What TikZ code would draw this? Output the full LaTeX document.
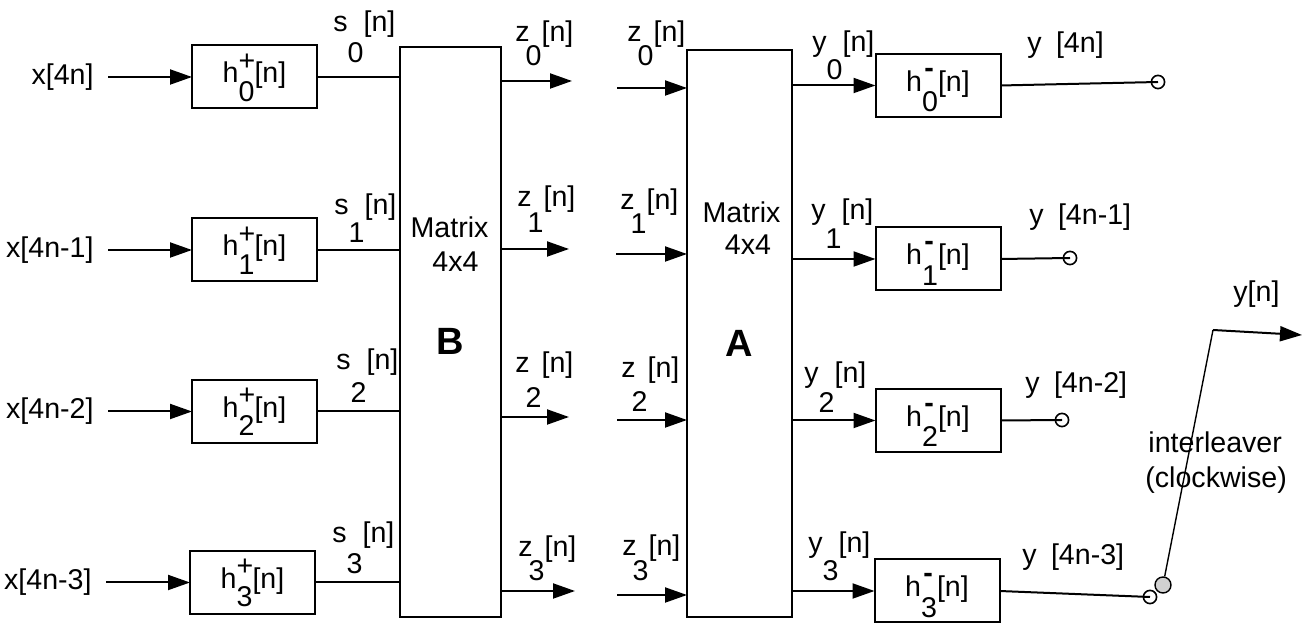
\documentclass[tikz,border=0pt]{standalone}
\usepackage{fontspec}
\setmainfont{Liberation Sans}
\usetikzlibrary{positioning}
\usetikzlibrary{arrows.meta}

\newcommand{\hplus}[1]{h\rlap{\raisebox{0.45em}{+}}\raisebox{-0.64em}{#1}[n]}
\newcommand{\hminus}[1]{h\rlap{\raisebox{0.5em}{\kern0.08em\textbf{-}}}\raisebox{-0.72em}{#1}[n]}
\newcommand{\sigl}[3]{#1\raisebox{-#3em}{#2}[n]}

\begin{document}
\begin{tikzpicture}[x=0.5pt,y=-0.5pt,
                    every node/.style={font=\fontsize{14.3}{17}\selectfont},
                    filterbox/.style={rectangle,
                                      draw=black, line width=1pt,
                                      inner sep=0pt, outer sep=0,
                                      minimum width=62.5pt, minimum height=31.5pt,
                                      text height=9.8pt, text depth=3.9pt
                                     },
                    matrixbox/.style={rectangle,
                                      draw=black, line width=1pt,
                                      inner sep=0pt, outer sep=0
                                     },
                    inlabel/.style={anchor=east, inner sep=7pt},
                    siglabel/.style={anchor=base west, inner sep=0pt},
                    midlabel/.style={anchor=base, inner sep=0pt},
                    tapcircle/.style={circle, draw=black, line width=0.8pt,
                                      inner sep=0pt, minimum size=6.6pt},
                    switchcircle/.style={circle, draw=black, line width=0.7pt,
                                      fill=black!18, inner sep=0pt, minimum size=8pt},
                    sigconnection/.style={
                                      line width=1pt,
                                      -{Triangle[length=11pt,width=7.5pt]}
                                     },
                    plainconnection/.style={line width=1pt}
                   ]
  \useasboundingbox (0,0) rectangle (1303,624);

  % matrices
  \node[matrixbox, minimum width=50.5pt, minimum height=285pt] (matB) at (450.5,332) { };
  \node[matrixbox, minimum width=52.5pt, minimum height=283.5pt] (matA) at (739.5,333.5) { };
  \node[midlabel] (matBa) at (449.5,238) {Matrix};
  \node[midlabel] (matBb) at (455.5,272) {4x4};
  \node[midlabel, font=\fontsize{19}{22}\selectfont\bfseries] (matBc) at (450,355) {B};
  \node[midlabel] (matAa) at (741.5,223) {Matrix};
  \node[midlabel] (matAb) at (748,255) {4x4};
  \node[midlabel, font=\fontsize{19}{22}\selectfont\bfseries] (matAc) at (739.5,357) {A};

  % analysis filters
  \node[inlabel] (x0) at (108,77) {x[4n]};
  \node[inlabel] (x1) at (108,250) {x[4n-1]};
  \node[inlabel] (x2) at (108,411.5) {x[4n-2]};
  \node[inlabel] (x3) at (106,582.5) {x[4n-3]};
  \node[filterbox] (hp0) at (254.5,77) {\hplus{0}};
  \node[filterbox] (hp1) at (254.5,250) {\hplus{1}};
  \node[filterbox] (hp2) at (254.5,411.5) {\hplus{2}};
  \node[filterbox] (hp3) at (252.5,582.5) {\hplus{3}};
  \draw [sigconnection] (x0) -- (x0 -| hp0.west);
  \draw [sigconnection] (x1) -- (x1 -| hp1.west);
  \draw [sigconnection] (x2) -- (x2 -| hp2.west);
  \draw [sigconnection] (x3) -- (x3 -| hp3.west);
  \draw [plainconnection] (hp0.east) -- (hp0.east -| matB.west);
  \draw [plainconnection] (hp1.east) -- (hp1.east -| matB.west);
  \draw [plainconnection] (hp2.east) -- (hp2.east -| matB.west);
  \draw [plainconnection] (hp3.east) -- (hp3.east -| matB.west);
  \node[siglabel] (s0) at (333,32) {\sigl{s}{0}{1.07}};
  \node[siglabel] (s1) at (334,215) {\sigl{s}{1}{0.96}};
  \node[siglabel] (s2) at (336,370) {\sigl{s}{2}{1.14}};
  \node[siglabel] (s3) at (332,543) {\sigl{s}{3}{1.07}};

  % between the matrices
  \coordinate (zo0) at (572,81);
  \coordinate (zo1) at (569,249);
  \coordinate (zo2) at (569,417);
  \coordinate (zo3) at (575,591);
  \coordinate (zi0) at (617,88);
  \coordinate (zi1) at (616,254);
  \coordinate (zi2) at (617,420);
  \coordinate (zi3) at (617,595);
  \draw [sigconnection] (zo0 -| matB.east) -- (zo0);
  \draw [sigconnection] (zo1 -| matB.east) -- (zo1);
  \draw [sigconnection] (zo2 -| matB.east) -- (zo2);
  \draw [sigconnection] (zo3 -| matB.east) -- (zo3);
  \draw [sigconnection] (zi0) -- (zi0 -| matA.west);
  \draw [sigconnection] (zi1) -- (zi1 -| matA.west);
  \draw [sigconnection] (zi2) -- (zi2 -| matA.west);
  \draw [sigconnection] (zi3) -- (zi3 -| matA.west);
  \node[siglabel] (zol0) at (515,42) {\sigl{z\kern-.14em}{0}{0.82}};
  \node[siglabel] (zol1) at (517,207) {\sigl{z\kern-.14em}{1}{0.89}};
  \node[siglabel] (zol2) at (515,373) {\sigl{z\kern-.14em}{2}{1.21}};
  \node[siglabel] (zol3) at (518,557) {\sigl{z\kern-.14em}{3}{0.82}};
  \node[siglabel] (zil0) at (627,42) {\sigl{z\kern-.14em}{0}{0.82}};
  \node[siglabel] (zil1) at (620,210) {\sigl{z\kern-.14em}{1}{0.82}};
  \node[siglabel] (zil2) at (621,378) {\sigl{z\kern-.14em}{2}{1.18}};
  \node[siglabel] (zil3) at (622,556) {\sigl{z\kern-.14em}{3}{0.86}};

  % synthesis filters
  \node[filterbox] (hm0) at (938,85.5) {\hminus{0}};
  \node[filterbox] (hm1) at (938,259) {\hminus{1}};
  \node[filterbox] (hm2) at (938,420.5) {\hminus{2}};
  \node[filterbox] (hm3) at (937,591) {\hminus{3}};
  \draw [sigconnection] (hm0.west -| matA.east) -- (hm0.west);
  \draw [sigconnection] (hm1.west -| matA.east) -- (hm1.west);
  \draw [sigconnection] (hm2.west -| matA.east) -- (hm2.west);
  \draw [sigconnection] (hm3.west -| matA.east) -- (hm3.west);
  \node[siglabel] (yl0) at (812,52) {\sigl{y}{0}{0.96}};
  \node[siglabel] (yl1) at (811,220) {\sigl{y}{1}{1.0}};
  \node[siglabel] (yl2) at (804,383) {\sigl{y}{2}{1.04}};
  \node[siglabel] (yl3) at (808,553) {\sigl{y}{3}{0.96}};

  % interleaver
  \node[tapcircle] (o0) at (1158,82) { };
  \node[tapcircle] (o1) at (1070,258) { };
  \node[tapcircle] (o2) at (1062,420) { };
  \node[tapcircle] (o3) at (1150,597) { };
  \draw [plainconnection] (hm0.east) -- (o0.center);
  \draw [plainconnection] (hm1.east) -- (o1.center);
  \draw [plainconnection] (hm2.east) -- (o2.center);
  \draw [plainconnection] (hm3.east) -- (o3.center);
  \node[siglabel] (yo0) at (1027,53) {y\hspace{0.5em}[4n]};
  \node[siglabel] (yo1) at (1029,225) {y\hspace{0.5em}[4n-1]};
  \node[siglabel] (yo2) at (1025,393) {y\hspace{0.5em}[4n-2]};
  \node[siglabel] (yo3) at (1022,565) {y\hspace{0.5em}[4n-3]};
  \node[switchcircle] (sw) at (1163,585) { };
  \coordinate (turn) at (1213,330);
  \coordinate (yout) at (1302,335);
  \draw [line width=0.7pt] (sw) -- (turn);
  \draw [sigconnection] (turn) -- (yout);
  \node[siglabel] (yn) at (1233,302) {y[n]};
  \node[siglabel] (il1) at (1148,453) {interleaver};
  \node[siglabel] (il2) at (1145,488) {(clockwise)};
\end{tikzpicture}
\end{document}
